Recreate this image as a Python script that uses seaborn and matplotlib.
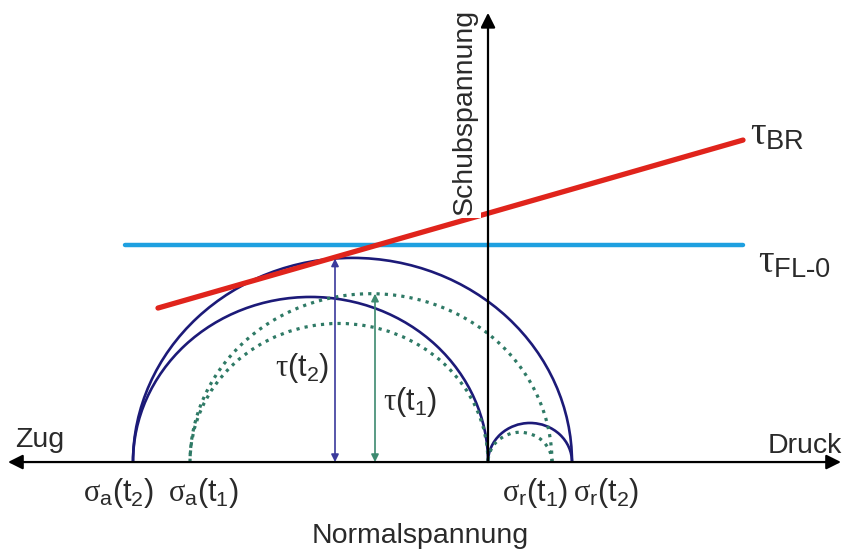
import numpy as np
import pandas as pd
import matplotlib
matplotlib.use("Agg")
import matplotlib.pyplot as plt
from matplotlib.patches import Arc
import seaborn as sns

# principal stresses (t2 = later time, t1 = earlier)
sigma_a = {"t2": -3.55, "t1": -2.98}
sigma_r = {"t2": 0.84, "t1": 0.64}

# failure envelope tau_BR and flow limit tau_FL-0
br_x = [-3.30, 2.55]
br_y = [1.656, 3.462]
fl_x = [-3.63, 2.55]
fl_y = [2.333, 2.333]

# shear arrows (x position, height)
tau_t2_x, tau_t2_h = -1.53, 2.188
tau_t1_x, tau_t1_h = -1.13, 1.81

NAVY = "#1c1a78"
GREEN = "#2f7a66"
RED = "#e0241c"
BLUE = "#1ea0e0"
TXT = "#2a2a2a"

sns.set_theme(style="white")
plt.rcParams["font.family"] = ["Liberation Sans", "DejaVu Sans"]
plt.rcParams["mathtext.fontset"] = "custom"
plt.rcParams["mathtext.rm"] = "Liberation Serif"
plt.rcParams["mathtext.it"] = "Liberation Serif"
plt.rcParams["mathtext.sf"] = "Liberation Sans"

fig = plt.figure(figsize=(8.42, 5.53), dpi=100)
ax = fig.add_axes([0, 0, 1, 1])
ax.set_xlim(-4.88, 3.54)
ax.set_ylim(-0.978, 4.968)
ax.axis("off")


def semicircle(x0, x1, **kw):
    c = (x0 + x1) / 2
    d = abs(x1 - x0)
    ax.add_patch(Arc((c, 0), d, d, theta1=0, theta2=180, **kw))


solid = dict(color=NAVY, lw=1.9)
dotted = dict(color=GREEN, lw=2.3, linestyle=(0, (1, 1.6)))

for t, style in [("t2", solid), ("t1", dotted)]:
    semicircle(sigma_a[t], sigma_r[t], **style)
    semicircle(sigma_a[t], 0, **style)
    semicircle(0, sigma_r[t], **style)

# envelopes
sns.lineplot(x=fl_x, y=fl_y, color=BLUE, lw=3.2, ax=ax)
sns.lineplot(x=br_x, y=br_y, color=RED, lw=3.8, ax=ax)

# axes with arrowheads
ax.annotate("", xy=(-4.80, 0), xytext=(3.53, 0),
            arrowprops=dict(arrowstyle="<|-|>", color="black", lw=1.6,
                            mutation_scale=22, shrinkA=0, shrinkB=0))
ax.annotate("", xy=(0, 4.83), xytext=(0, 0),
            arrowprops=dict(arrowstyle="-|>", color="black", lw=1.6,
                            mutation_scale=22, shrinkA=0, shrinkB=0))

# shear arrows
ax.annotate("", xy=(tau_t2_x, tau_t2_h), xytext=(tau_t2_x, 0),
            arrowprops=dict(arrowstyle="<|-|>", color="#3b3a9c", lw=1.2,
                            mutation_scale=11, shrinkA=0, shrinkB=0))
ax.annotate("", xy=(tau_t1_x, tau_t1_h), xytext=(tau_t1_x, 0),
            arrowprops=dict(arrowstyle="<|-|>", color="#3d8a70", lw=1.2,
                            mutation_scale=11, shrinkA=0, shrinkB=0))

fs = 20.5
ax.text(-4.73, 0.24, "Zug", fontsize=fs, ha="left", va="center", color=TXT)
ax.text(3.54, 0.17, "Druck", fontsize=fs, ha="right", va="center", color=TXT)
ax.text(-0.68, -0.80, "Normalspannung", fontsize=fs, ha="center", va="center", color=TXT)
ax.text(-0.23, 3.76, "Schubspannung", fontsize=fs, ha="center", va="center",
        rotation=90, color=TXT,
        bbox=dict(facecolor="white", edgecolor="none", pad=2))


def lab(greek, sub, t):
    return r"$%s_{\mathsf{%s}}\mathsf{(t_{%s})}$" % (greek, sub, t) if sub else \
        r"$%s\mathsf{(t_{%s})}$" % (greek, t)


lab_y = -0.33
ax.text(-3.69, lab_y, lab(r"\sigma", "a", "2"), fontsize=22, ha="center", va="center", color=TXT)
ax.text(-2.84, lab_y, lab(r"\sigma", "a", "1"), fontsize=22, ha="center", va="center", color=TXT)
ax.text(0.47, lab_y, lab(r"\sigma", "r", "1"), fontsize=22, ha="center", va="center", color=TXT)
ax.text(1.18, lab_y, lab(r"\sigma", "r", "2"), fontsize=22, ha="center", va="center", color=TXT)

ax.text(-1.86, 1.01, lab(r"\tau", "", "2"), fontsize=22, ha="center", va="center", color=TXT)
ax.text(-0.78, 0.645, lab(r"\tau", "", "1"), fontsize=22, ha="center", va="center", color=TXT)

ax.text(2.62, 3.52, r"$\tau_{\mathsf{BR}}$", fontsize=28, ha="left", va="center", color=TXT)
ax.text(2.70, 2.15, r"$\tau_{\mathsf{FL\text{-}0}}$", fontsize=28, ha="left", va="center", color=TXT)

fig.savefig("out.png", dpi=100)
